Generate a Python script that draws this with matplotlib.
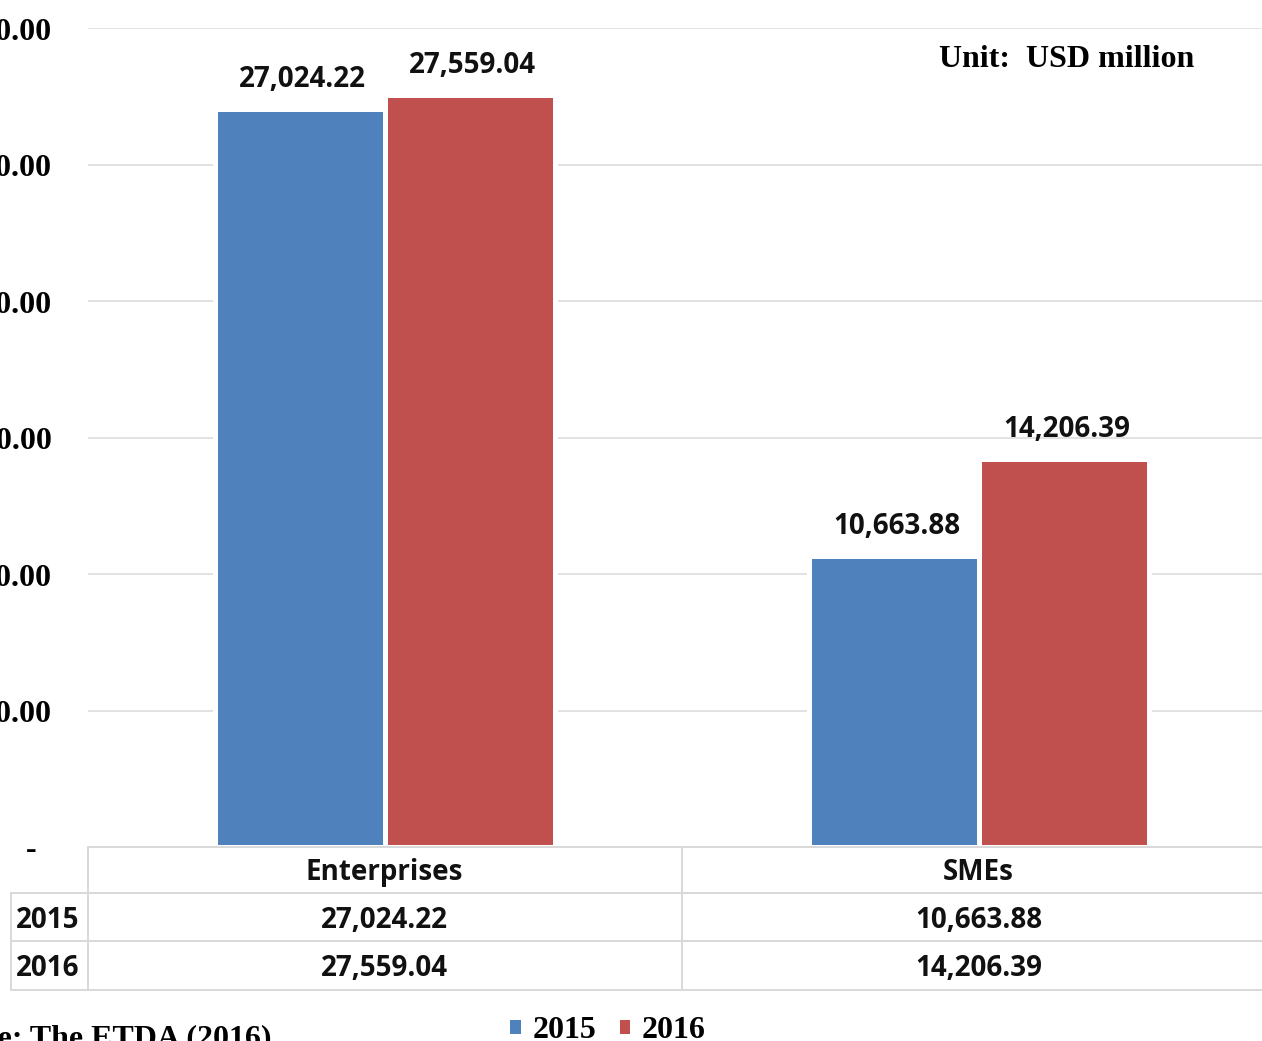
import matplotlib
matplotlib.use("Agg")
import matplotlib.pyplot as plt
import matplotlib.transforms as mtransforms
from matplotlib.lines import Line2D
from matplotlib.patches import Patch

# ---- data ----
categories = ["Enterprises", "SMEs"]
years = ["2015", "2016"]
values_2015 = [27024.22, 10663.88]
values_2016 = [27559.04, 14206.39]
ytick_values = [0, 5000, 10000, 15000, 20000, 25000, 30000]
unit_text = "Unit:  USD million"
source_text = "Source: The ETDA (2016)"

BLUE = "#4F81BD"
RED = "#C0504D"
GRID = "#D9D9D9"
SERIF = "Liberation Serif"
SANS = "Open Sans"

W, H = 1262, 1041
DPI = 100
fig = plt.figure(figsize=(W / DPI, H / DPI), dpi=DPI, facecolor="white")

def fx(px):
    return px / W

def fy(py):
    return (H - py) / H

def pt(px):
    return px * 72.0 / DPI

ax_left, ax_right = 87.5, 1275.5
ax_top, ax_bottom = 28, 847
ax = fig.add_axes([fx(ax_left), fy(ax_bottom), fx(ax_right - ax_left), (ax_bottom - ax_top) / H])
ax.set_xlim(-0.5, 1.5)
ax.set_ylim(0, 30000)
for s in ax.spines.values():
    s.set_visible(False)

x = list(range(len(categories)))
bw = 170 / 594.0
off = bw / 2
b1 = ax.bar([i - off for i in x], values_2015, width=bw, color=BLUE,
            edgecolor="white", linewidth=pt(5), zorder=3)
b2 = ax.bar([i + off for i in x], values_2016, width=bw, color=RED,
            edgecolor="white", linewidth=pt(5), zorder=3)

ax.set_axisbelow(True)
ax.yaxis.grid(True, color=GRID, linewidth=pt(1.5), zorder=0)
ax.xaxis.grid(False)
ax.set_xticks([])
ax.set_yticks(ytick_values)
ax.set_yticklabels([("" if v == 0 else f"{v:,.2f}") for v in ytick_values],
                   fontfamily=SERIF, fontweight="bold", fontsize=23)
ax.tick_params(axis="y", length=0, pad=pt(ax_left - 52))
ax.annotate("-", xy=(0, 0), xycoords=("axes fraction", "data"),
            xytext=(pt(31 - ax_left), pt(-4)), textcoords="offset points",
            ha="center", va="center", fontfamily=SERIF, fontweight="bold",
            fontsize=23, annotation_clip=False)

LBL_SIZE = 20

# data labels
for bars, vals in ((b1, values_2015), (b2, values_2016)):
    for rect, v in zip(bars, vals):
        ax.annotate(f"{v:,.2f}", xy=(rect.get_x() + rect.get_width() / 2, v),
                    xytext=(pt(3), pt(22)), textcoords="offset points",
                    ha="center", va="baseline", fontfamily=SANS,
                    fontweight="bold", fontsize=LBL_SIZE, color="#111111")

# ---- data table ----
trans = mtransforms.blended_transform_factory(ax.transData, fig.transFigure)
col_edges = [-0.5, 0.5, 1.5]
label_left = -0.5 - 77 / 594.0
row_lines = [847, 893, 941, 990]
lw_t = pt(2)

def hline(x0, x1, py):
    ax.add_line(Line2D([x0, x1], [fy(py), fy(py)], transform=trans, color=GRID,
                       linewidth=lw_t, clip_on=False, zorder=4))

def vline(xd, py0, py1):
    ax.add_line(Line2D([xd, xd], [fy(py0), fy(py1)], transform=trans, color=GRID,
                       linewidth=lw_t, clip_on=False, zorder=4))

hline(col_edges[0], col_edges[-1], row_lines[0])
for py in row_lines[1:]:
    hline(label_left, col_edges[-1], py)
for xd in col_edges:
    vline(xd, row_lines[0], row_lines[-1])
vline(label_left, row_lines[1], row_lines[-1])

txt_kw = dict(fontfamily=SANS, fontweight="bold", fontsize=LBL_SIZE, color="#111111",
              transform=trans, va="baseline", clip_on=False)
for i, c in enumerate(categories):
    ax.text(i, fy(880), c, ha="center", **txt_kw)
for row_y, yr, vals in ((928, years[0], values_2015), (976, years[1], values_2016)):
    ax.text(label_left + 5 / 594.0, fy(row_y), yr, ha="left", **txt_kw)
    for i, v in enumerate(vals):
        ax.text(i, fy(row_y), f"{v:,.2f}", ha="center", **txt_kw)

# ---- annotations ----
fig.text(fx(939), fy(67), unit_text, ha="left", va="baseline",
         fontfamily=SERIF, fontweight="bold", fontsize=23)
fig.text(fx(272), fy(1046), source_text, ha="right", va="baseline",
         fontfamily=SERIF, fontweight="bold", fontsize=23)

handles = [Patch(facecolor=BLUE, edgecolor="none"), Patch(facecolor=RED, edgecolor="none")]
leg = fig.legend(handles, years, loc="center", bbox_to_anchor=(fx(608), fy(1031)),
                 ncol=2, frameon=False, handlelength=0.33, handleheight=0.33,
                 handletextpad=0.35, columnspacing=0.75, borderpad=0,
                 prop=dict(family=SERIF, weight="bold", size=23))

fig.savefig("out.png", dpi=DPI, facecolor="white")
